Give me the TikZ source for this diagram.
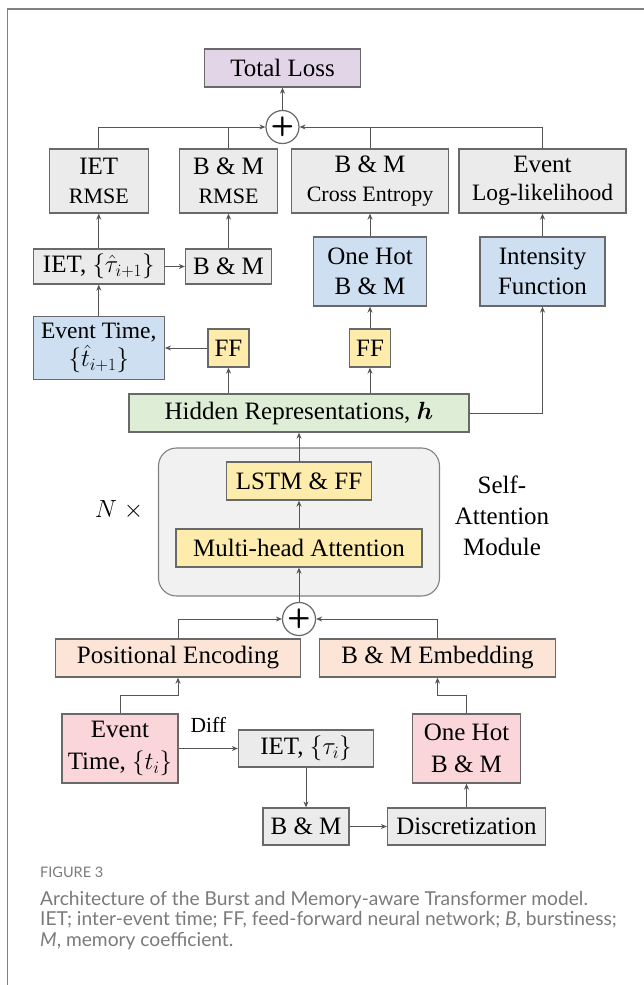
\documentclass[tikz,border=0pt]{standalone}
\usepackage{fontspec}
\usepackage{bm}
\setmainfont{Liberation Serif}
\newfontfamily\capfont{Lato}
\usetikzlibrary{arrows.meta}
\definecolor{greycol}{RGB}{235,235,235}
\definecolor{bluecol}{RGB}{205,223,240}
\definecolor{yellowcol}{RGB}{253,236,172}
\definecolor{greencol}{RGB}{222,238,214}
\definecolor{peachcol}{RGB}{252,228,214}
\definecolor{pinkcol}{RGB}{250,213,218}
\definecolor{lilaccol}{RGB}{225,213,231}
\definecolor{modcol}{RGB}{241,241,241}
\definecolor{edgecol}{RGB}{105,105,105}
\definecolor{linecol}{RGB}{85,85,85}
\definecolor{capcol}{RGB}{122,122,122}
\newcommand\fsmain{\fontsize{25}{30}\selectfont}
\newcommand\fstop{\fontsize{25}{28.5}\selectfont}
\newcommand\fssub{\fontsize{22}{28.5}\selectfont}
\newcommand\fsdiff{\fontsize{21.5}{24}\selectfont}
\tikzset{
  cell/.style={rectangle,draw=edgecol,line width=1.3pt,inner sep=0pt,align=center,font=\fsmain},
  kcell/.style={cell,fill=greycol},
  bcell/.style={cell,fill=bluecol},
  ycell/.style={cell,fill=yellowcol},
  gcell/.style={cell,fill=greencol},
  ocell/.style={cell,fill=peachcol},
  pcell/.style={cell,fill=pinkcol},
  lcell/.style={cell,fill=lilaccol},
  sumnode/.style={circle,draw=edgecol,line width=1.2pt,fill=white,inner sep=0pt,minimum size=33pt,font=\sffamily\bfseries\fontsize{27}{27}\selectfont},
  conn/.style={draw=linecol,line width=1pt,-{Stealth[length=6pt,width=5pt]}},
  wire/.style={draw=linecol,line width=1pt},
  border/.style={draw=gray,line width=1.6pt},
  txt/.style={inner sep=0pt,align=center,font=\fsmain},
  captxt/.style={inner sep=0pt,align=left,text=capcol,font={\capfont\fontsize{19.2}{20.5}\selectfont}},
}
\begin{document}
\begin{tikzpicture}[x=1pt,y=-1pt]
  \useasboundingbox (0,0) rectangle (644,985);
  \draw[border] (7.3,985) -- (7.3,9) -- (644,9);

  % losses
  \node[lcell,minimum width=156,minimum height=38] (total) at (282.5,68) {Total Loss};
  \node[sumnode] (sumtop) at (282.5,127) {+};
  \node[kcell,minimum width=99,minimum height=64,font=\fstop] (ietrmse) at (98.8,181) {IET\\{\fssub RMSE}};
  \node[kcell,minimum width=98,minimum height=64,font=\fstop] (bmrmse) at (228.5,181) {B \& M\\{\fssub RMSE}};
  \node[kcell,minimum width=157,minimum height=64,font=\fstop] (bmce) at (370,181) {B \& M\\{\fssub Cross Entropy}};
  \node[kcell,minimum width=167,minimum height=64,font=\fstop] (evll) at (542.5,181) {Event\\{\fontsize{23.5}{28.5}\selectfont Log-likelihood}};

  % predictions
  \node[kcell,minimum width=131,minimum height=35] (iethat) at (98.8,266.5) {IET, $\{\hat{\tau}_{i+1}\}$};
  \node[kcell,minimum width=86,minimum height=35] (bmhat) at (228.5,266.5) {B \& M};
  \node[bcell,minimum width=113,minimum height=69] (onehot) at (370,271.5) {One Hot\\B \& M};
  \node[bcell,minimum width=125,minimum height=69] (intens) at (542.5,271.5) {Intensity\\Function};
  \node[bcell,minimum width=131,minimum height=63,font=\fontsize{23.5}{28}\selectfont] (evhat) at (98.8,348) {Event Time,\\$\{\hat{t}_{i+1}\}$};
  \node[ycell,minimum width=41,minimum height=38] (ffl) at (228.5,348) {FF};
  \node[ycell,minimum width=41,minimum height=38] (ffr) at (370,348) {FF};
  \node[gcell,minimum width=340,minimum height=38] (hidden) at (299,413) {Hidden Representations, $\bm{h}$};

  % self-attention module
  \node[draw=gray,line width=1.1pt,fill=modcol,rounded corners=18pt,minimum width=281,minimum height=148] (module) at (299,522) {};
  \node[ycell,minimum width=145,minimum height=38] (lstm) at (299,481) {LSTM \& FF};
  \node[ycell,minimum width=246,minimum height=38] (mha) at (299,548) {Multi-head Attention};
  \node[txt] (ntimes) at (119,510) {$N\;\times$};
  \node[txt,font=\fontsize{25}{31}\selectfont] (modname) at (502,516) {Self-\\Attention\\Module};

  % inputs
  \node[sumnode] (sumbot) at (299,619) {+};
  \node[ocell,minimum width=245,minimum height=38] (posenc) at (178,658) {Positional Encoding};
  \node[ocell,minimum width=236,minimum height=38] (bmemb) at (437.5,658) {B \& M Embedding};
  \node[pcell,minimum width=116,minimum height=69,font=\fontsize{25}{32}\selectfont] (evtime) at (120,748.5) {Event\\Time, $\{t_i\}$};
  \node[kcell,minimum width=135,minimum height=37] (iettau) at (306,748.5) {IET, $\{\tau_i\}$};
  \node[kcell,minimum width=86,minimum height=37] (bmbot) at (306,826.5) {B \& M};
  \node[kcell,minimum width=158,minimum height=37] (disc) at (466.5,826.5) {Discretization};
  \node[pcell,minimum width=108,minimum height=69,font=\fontsize{25}{32}\selectfont] (onehotp) at (466.5,748.5) {One Hot\\B \& M};

  % connectors
  \draw[conn] (sumtop) -- (total);
  \draw[conn] (ietrmse.north) |- (sumtop.west);
  \draw[wire] (bmrmse.north) -- (bmrmse.north |- sumtop);
  \draw[conn] (evll.north) |- (sumtop.east);
  \draw[wire] (bmce.north) -- (bmce.north |- sumtop);
  \draw[conn] (iethat) -- (ietrmse);
  \draw[conn] (bmhat) -- (bmrmse);
  \draw[conn] (iethat) -- (bmhat);
  \draw[conn] (evhat) -- (iethat);
  \draw[conn] (ffl) -- (evhat);
  \draw[conn] (ffl.south |- hidden.north) -- (ffl);
  \draw[conn] (ffr.south |- hidden.north) -- (ffr);
  \draw[conn] (ffr) -- (onehot);
  \draw[conn] (onehot) -- (bmce);
  \draw[conn] (intens) -- (evll);
  \draw[conn] (hidden.east) -| (intens.south);
  \draw[conn] (lstm) -- (hidden);
  \draw[conn] (mha) -- (lstm);
  \draw[conn] (sumbot) -- (mha);
  \draw[conn] (posenc.north) |- (sumbot.west);
  \draw[conn] (bmemb.north) |- (sumbot.east);
  \draw[conn] (evtime.north) -- ++(0,-18) -| (posenc.south);
  \draw[conn] (evtime) -- node[midway,above=15pt,inner sep=0pt,font=\fsdiff] (difflab) {Diff} (iettau);
  \draw[conn] (iettau) -- (bmbot);
  \draw[conn] (bmbot) -- (disc);
  \draw[conn] (disc) -- (onehotp);
  \draw[conn] (onehotp.north) -- ++(0,-18) -| (bmemb.south);

  % caption
  \node[captxt,anchor=base west,font={\capfont\fontsize{14.5}{16}\selectfont}] (figlab) at (40,877) {FIGURE 3};
  \node[captxt,anchor=base west] (figcap) at (40,946) {Architecture of the Burst and Memory-aware Transformer model.\\IET; inter-event time; FF, feed-forward neural network; \textit{B}, burstiness;\\\textit{M}, memory coefficient.};
\end{tikzpicture}
\end{document}
